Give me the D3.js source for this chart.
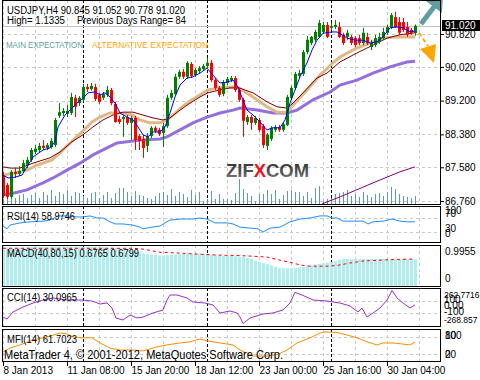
<!DOCTYPE html>
<html><head><meta charset="utf-8">
<script src="https://cdn.jsdelivr.net/npm/d3@7"></script>
<style>body{margin:0;background:#fff}svg{display:block}</style>
</head><body>
<svg id="c" width="480" height="380"></svg>
<script>
// ---------- DATA ----------
const open = [87.37,87.15,86.86,87.47,87.42,87.49,87.64,87.76,87.95,88.00,
88.10,88.05,88.07,88.12,88.83,88.90,88.88,88.90,89.27,89.14,
89.22,89.53,89.48,89.53,89.34,89.27,89.34,89.46,89.12,88.75,
88.75,88.80,88.66,88.78,88.34,88.27,88.10,88.34,88.54,88.49,
88.41,88.58,89.27,89.36,89.78,89.90,89.78,90.09,89.82,89.92,
89.97,90.04,90.12,89.70,89.51,89.36,89.63,89.70,89.75,89.46,
89.22,88.68,88.80,88.66,88.73,88.58,88.10,88.27,88.49,88.56,
88.49,88.61,89.27,89.51,89.80,89.85,90.38,90.60,90.68,90.75,
90.87,91.04,90.97,90.99,90.99,90.80,90.75,90.75,90.72,90.72,
90.60,90.75,90.50,90.55,90.63,90.72,90.85,90.99,91.23,91.11,
91.11,90.99,90.92,90.845];
const high = [87.47,87.20,87.51,87.56,87.61,87.76,87.83,88.05,88.12,88.17,
88.24,88.17,88.29,88.78,89.14,89.02,89.09,89.39,89.34,89.31,
89.61,89.61,89.63,89.61,89.39,89.41,89.56,89.51,89.17,88.83,
88.85,88.85,88.83,88.83,88.39,88.37,88.41,88.58,88.58,88.54,
88.66,89.34,89.46,89.85,89.95,89.97,90.16,90.14,89.99,90.04,
90.09,90.24,90.19,89.75,89.56,89.70,89.78,89.80,89.80,89.51,
89.27,88.85,88.85,88.83,88.78,88.63,88.41,88.58,88.61,88.61,
88.68,89.34,89.56,89.90,89.95,90.43,90.77,90.77,90.92,91.16,
91.11,91.11,91.09,91.16,91.11,90.85,90.92,90.80,90.77,90.80,
90.97,90.85,90.68,90.80,90.85,90.97,91.04,91.33,91.36,91.23,
91.21,91.11,90.97,91.052];
const low = [86.83,86.81,86.81,87.32,87.37,87.44,87.56,87.71,87.90,87.95,
88.00,88.00,88.03,88.07,88.78,88.83,88.80,88.85,88.80,89.07,
89.17,89.41,89.44,89.19,89.12,89.22,89.29,89.09,88.66,88.63,
88.32,88.61,88.24,88.00,88.00,87.81,87.95,88.29,88.41,88.34,
88.07,88.54,89.22,89.34,89.73,89.73,89.73,89.75,89.78,89.87,
89.92,89.99,89.65,89.46,89.29,89.31,89.58,89.65,89.41,89.17,
88.32,88.61,88.49,88.61,88.44,88.05,88.00,88.22,88.44,88.44,
88.44,88.58,89.24,89.46,89.75,89.80,90.33,90.55,90.63,90.72,
90.82,90.72,90.92,90.94,90.72,90.55,90.68,90.55,90.50,90.55,
90.55,90.55,90.43,90.50,90.58,90.68,90.80,90.94,90.97,90.80,
90.87,90.75,90.80,90.778];
const close = [86.88,86.86,87.47,87.42,87.49,87.68,87.76,88.00,88.03,88.10,
88.05,88.12,88.22,88.73,88.92,88.95,88.95,89.29,89.05,89.27,
89.53,89.48,89.56,89.24,89.17,89.36,89.46,89.14,88.68,88.68,
88.80,88.66,88.78,88.24,88.22,88.05,88.34,88.54,88.46,88.39,
88.58,89.27,89.39,89.78,89.90,89.78,90.12,89.80,89.95,89.99,
90.04,90.12,89.70,89.51,89.34,89.65,89.73,89.75,89.46,89.22,
88.71,88.80,88.66,88.78,88.49,88.12,88.37,88.54,88.56,88.49,
88.63,89.29,89.51,89.85,89.87,90.38,90.68,90.75,90.87,91.09,
91.04,90.75,91.01,91.04,90.75,90.60,90.85,90.60,90.55,90.60,
90.85,90.60,90.60,90.72,90.75,90.87,90.99,91.28,90.99,90.85,
90.92,90.80,90.85,91.020];
const volume = [500,800,1200,600,900,1000,600,900,1100,600,
1200,900,1400,800,1200,1000,1400,800,1200,1100,
800,600,1100,1200,600,900,1200,600,1100,1600,
1600,1200,800,1300,900,800,600,500,800,1100,
1200,900,1500,800,1200,1000,700,1400,900,1200,
300,500,1300,500,1000,500,500,400,1100,2500,
1500,1100,800,300,1000,1000,1400,1000,1400,500,
900,1300,1400,1200,1200,800,1200,600,1600,1800,
300,500,600,1000,1100,1200,1400,800,1000,700,
1200,900,700,1000,1100,800,1200,1700,1500,1000,
800,700,600,800];
// moving averages: [bar index, price]
const maFast = [[0,87.39],[1.25,87.32],[3,87.34],[4.75,87.39],[6,87.59],[7.5,87.83],[10,88.00],[11.75,88.05],[13,88.20],[13.75,88.56],[15.5,88.85],[16.75,88.97],[18.5,89.14],[20,89.26],[21.25,89.39],[23,89.41],[24.25,89.34],[25.5,89.39],[26.75,89.29],[28,89.14],[29.25,88.90],[31,88.80],[32.5,88.73],[33.75,88.56],[35,88.37],[36.25,88.32],[37.5,88.44],[39.25,88.44],[40.5,88.56],[41.75,88.90],[43,89.29],[44.25,89.58],[46,89.75],[47.5,89.78],[49.25,89.87],[51,89.99],[52.5,89.82],[54.25,89.63],[56,89.65],[57.5,89.70],[58.75,89.53],[59.25,89.40],[61,88.97],[62.5,88.85],[64.25,88.68],[66,88.49],[67.5,88.54],[69.25,88.54],[70.5,88.73],[71.75,89.14],[73,89.46],[74.25,89.78],[76,90.12],[77.25,90.43],[78.5,90.67],[80,90.84],[82.25,90.87],[83.5,90.87],[84.75,90.80],[86,90.72],[88,90.67],[90,90.67],[91.75,90.60],[93.5,90.63],[95,90.75],[96.75,90.97],[98.5,90.99],[100,90.97],[101.75,90.87],[103,90.89]];
const maMid = [[0,87.59],[1.75,87.56],[4.25,87.56],[7.5,87.68],[11.75,87.81],[14.25,87.95],[17.25,88.20],[20,88.37],[22.5,88.56],[25,88.73],[27.5,88.85],[30,88.92],[32.5,88.92],[35,88.85],[37.5,88.78],[40,88.73],[41.75,88.78],[44.25,88.97],[46.75,89.14],[49.25,89.29],[51.25,89.39],[54.25,89.46],[56.75,89.51],[59,89.51],[62.5,89.39],[66,89.17],[68.5,89.05],[71,89.02],[72.5,89.14],[75,89.39],[78.5,89.75],[81,89.87],[84.25,90.14],[88.5,90.36],[92.5,90.55],[96,90.72],[99.25,90.80],[103,90.85]];
const maTan = [[0,87.39],[3,87.44],[6,87.51],[8.5,87.63],[12.25,87.76],[14.25,87.93],[16.75,88.17],[19.75,88.44],[22.25,88.68],[24.25,88.80],[26.75,88.90],[29.25,88.90],[32.25,88.85],[34.25,88.73],[36.75,88.66],[39.25,88.66],[41,88.73],[42.5,88.85],[44.75,89.05],[47.25,89.22],[49.25,89.34],[51.25,89.46],[54.25,89.51],[57.5,89.53],[59,89.51],[62.5,89.29],[66,89.05],[68.5,88.92],[71,88.92],[73,89.14],[76,89.46],[79.25,89.82],[82.5,90.12],[84.25,90.26],[88.5,90.48],[91.75,90.60],[95,90.72],[98.5,90.75],[103,90.75]];
const maSlow = [[0,86.91],[2.5,86.95],[6,87.03],[10,87.20],[12.5,87.32],[16,87.51],[19.25,87.68],[22.5,87.88],[26,88.05],[28.5,88.17],[31,88.20],[34.25,88.24],[39.25,88.27],[41,88.32],[44.25,88.49],[47.5,88.66],[51,88.80],[54.25,88.90],[57.5,88.97],[59.25,89.02],[63.5,88.97],[67.5,88.90],[71,88.90],[73.5,88.97],[77.5,89.22],[81.75,89.41],[84.25,89.58],[88.5,89.70],[92.5,89.87],[96.75,90.02],[101,90.14],[103,90.16]];
const maLong = [[79.75,86.69],[84.25,86.86],[92.5,87.20],[99.25,87.47],[103,87.59]];
const rsi = [[0,47],[1,39],[1.75,50],[4.25,56],[6.75,59],[10,61],[11.75,64],[13.75,76],[16,76],[18.5,73],[20,73],[21.75,76],[23.5,70],[25,70],[26.75,59],[28,53],[30,53],[32.25,50],[34.25,44],[35,39],[37.25,44],[39.25,47],[40.5,56],[41.75,64],[44.25,67],[47.5,67],[49.25,70],[51,67],[53,56],[56,56],[57.5,53],[59.25,44],[63.75,39],[65,30],[66.75,41],[69.25,44],[71.75,59],[74.25,67],[76.75,70],[79.25,76],[81,76],[82.25,70],[83.5,70],[85,61],[87.5,61],[90,61],[91.25,53],[92.5,59],[95,61],[97.25,67],[99.25,61],[101.25,59],[103,58.9746]];
const macdHist = [0.97,0.97,0.97,0.97,0.97,0.97,0.98,0.98,0.98,0.98,
0.98,0.98,0.98,0.99,0.99,0.99,0.99,0.99,0.99,0.99,
0.99,0.99,0.99,0.98,0.98,0.98,0.97,0.97,0.96,0.95,
0.94,0.92,0.90,0.88,0.85,0.82,0.80,0.79,0.78,0.77,
0.77,0.78,0.79,0.80,0.81,0.82,0.82,0.82,0.81,0.81,
0.80,0.80,0.79,0.78,0.77,0.77,0.76,0.76,0.75,0.74,
0.73,0.71,0.68,0.64,0.61,0.58,0.55,0.52,0.49,0.46,
0.45,0.45,0.45,0.46,0.47,0.48,0.50,0.52,0.54,0.56,
0.58,0.59,0.60,0.63,0.66,0.68,0.68,0.68,0.68,0.68,
0.68,0.68,0.68,0.68,0.68,0.68,0.68,0.68,0.68,0.68,
0.68,0.68,0.68,0.6765];
const macdSignal = [[0,0.95],[32.5,0.95],[35,0.93],[39.25,0.85],[44.25,0.83],[49.25,0.80],[53.5,0.78],[59.25,0.765],[62.5,0.75],[66,0.73],[69.25,0.65],[71.75,0.60],[74.25,0.53],[76.75,0.50],[81.75,0.50],[84.25,0.53],[86.75,0.58],[90,0.63],[94.25,0.65],[98.5,0.67],[103,0.6799]];
const cci = [[0,-164],[1,-196],[2.5,-84],[5,-4],[7.5,60],[10,108],[12.5,140],[16,108],[20,108],[22.25,92],[24.25,44],[26,60],[27.25,-20],[28.25,-180],[30,-212],[31.75,-132],[33.5,-180],[35,-164],[37.5,-100],[40,-52],[41,108],[41.75,188],[43.5,188],[46,140],[47.5,76],[50.5,60],[52.5,28],[54.25,-100],[56.75,-68],[58.5,-100],[59.25,-164],[60,-268],[61.75,-180],[65,-116],[67.5,-100],[70,-52],[71.75,60],[73,230],[74.75,188],[77.5,108],[81,92],[82.5,76],[84.25,60],[86.75,12],[88.75,-84],[89.75,-20],[91,-164],[92.5,-100],[94.25,-20],[96,108],[97.25,262],[98.5,140],[100,60],[101.75,-20],[103,30.0965]];
const mfi = [[0,27],[1.75,41],[4.25,52],[7.5,70],[11,80],[14.25,94],[16,91],[17.5,80],[20,77],[22.25,77],[24.25,59],[26.75,41],[29.25,34],[32.5,34],[35,31],[38.5,45],[41,52],[44.25,59],[46.75,63],[49.25,73],[51.25,66],[54.25,59],[57.5,52],[59.25,34],[62.5,13],[66,13],[68.5,17],[71,34],[73.5,59],[76.75,77],[79.25,94],[80.5,98],[83.5,96],[86,87],[88.5,77],[91,63],[93.5,52],[95,59],[97.5,59],[101.75,52],[103,61.7023]];
const priceTicks = [90.820, 90.020, 89.200, 88.380, 87.580, 86.760];
const timeIdx = [0, 16, 32, 48, 64, 80, 96];
const timeLabels = ["8 Jan 2013","11 Jan 08:00","15 Jan 20:00","18 Jan 12:00","23 Jan 00:00","25 Jan 16:00","30 Jan 04:00"];
const gridIdx = d3.range(0, 105, 8);
const sepIdx = [20, 51, 82];
const lastPrice = 91.020;

// ---------- LAYOUT ----------
const F = "Liberation Sans, Arial, sans-serif";
const L = 2, R = 441;
const P = {main:[0,205], rsi:[206,243], macd:[245,287], cci:[288,327], mfi:[329,362]};
const svg = d3.select("#c");
svg.append("rect").attr("width",480).attr("height",380).attr("fill","#fff");

const x = d3.scaleLinear().domain([0, 103]).range([3, 415]);
const yP = d3.scaleLinear().domain([86.76, 90.82]).range([201, 34]);
const yV = d3.scaleLinear().domain([0, 2500]).range([204, 179]);
const yR = d3.scaleLinear().domain([0, 100]).range([242.5, 207.5]);
const yM = d3.scaleLinear().domain([0, 0.9955]).range([286, 246.5]);
const yC = d3.scaleLinear().domain([-100, 100]).range([313, 300.5]);
const yF = d3.scaleLinear().domain([20, 80]).range([354, 337]);

const defs = svg.append("defs");
Object.entries(P).forEach(([k,[t,b]]) => {
  defs.append("clipPath").attr("id","clip-"+k).append("rect")
    .attr("x",L).attr("y",t).attr("width",R-L).attr("height",b-t);
});
const lg = defs.append("linearGradient").attr("id","logoG").attr("x1",0).attr("y1",0).attr("x2",0).attr("y2",1);
lg.append("stop").attr("offset","0%").attr("stop-color","#2a2a2a");
lg.append("stop").attr("offset","60%").attr("stop-color","#555");
lg.append("stop").attr("offset","100%").attr("stop-color","#8a8a8a");

function panelGrid(key, hLevels, yScale) {
  const [t,b] = P[key];
  const g = svg.append("g").attr("clip-path",`url(#clip-${key})`);
  g.selectAll(".vg").data(gridIdx).join("line")
    .attr("x1",d=>Math.round(x(d))+0.5).attr("x2",d=>Math.round(x(d))+0.5)
    .attr("y1",t).attr("y2",b).attr("stroke","#c8c8c8").attr("stroke-dasharray","3,3");
  if (hLevels) g.selectAll(".hg").data(hLevels).join("line")
    .attr("x1",L).attr("x2",R).attr("y1",d=>Math.round(yScale(d))+0.5).attr("y2",d=>Math.round(yScale(d))+0.5)
    .attr("stroke","#c8c8c8").attr("stroke-dasharray","3,3");
  g.selectAll(".sep").data(sepIdx).join("line")
    .attr("x1",d=>Math.round(x(d))+0.5).attr("x2",d=>Math.round(x(d))+0.5)
    .attr("y1",t).attr("y2",b).attr("stroke","#000").attr("stroke-dasharray","3,2");
  return g;
}
function border(key){
  const [t,b] = P[key];
  svg.append("rect").attr("x",L+0.5).attr("y",t+0.5).attr("width",R-L-1).attr("height",b-t-1)
    .attr("fill","none").attr("stroke","#000");
}
function label(xp, yp, s, size, fill, len, anchor) {
  const t = svg.append("text").attr("x",xp).attr("y",yp).text(s)
    .attr("font-family",F).attr("font-size",size).attr("fill",fill||"#000");
  if (len) t.attr("textLength",len).attr("lengthAdjust","spacingAndGlyphs");
  if (anchor) t.attr("text-anchor",anchor);
  return t;
}
const lineGen = (ys) => d3.line().x(d=>x(d[0])).y(d=>ys(d[1]));

// ---------- MAIN PANEL ----------
const gm = panelGrid("main", priceTicks, yP);
// logo
const logo = gm.append("text").attr("x",226).attr("y",177).attr("font-family",F)
  .attr("font-weight","bold").attr("font-size",19).attr("textLength",83).attr("lengthAdjust","spacingAndGlyphs");
logo.append("tspan").text("ZIF").attr("fill","url(#logoG)");
logo.append("tspan").text("X").attr("fill","#e8141b");
logo.append("tspan").text("COM").attr("fill","url(#logoG)");
// current price line
gm.append("line").attr("x1",L).attr("x2",R).attr("y1",Math.round(yP(lastPrice))+0.5).attr("y2",Math.round(yP(lastPrice))+0.5)
  .attr("stroke","#c0c0c0");
// volumes
gm.selectAll(".vol").data(volume).join("line")
  .attr("x1",(d,i)=>x(i)+0.5).attr("x2",(d,i)=>x(i)+0.5)
  .attr("y1",yV(0)).attr("y2",d=>yV(d)).attr("stroke","#5f9ea0");
// MAs
gm.append("path").datum(maSlow).attr("d",lineGen(yP)).attr("fill","none").attr("stroke","#9370db").attr("stroke-width",3);
gm.append("path").datum(maTan).attr("d",lineGen(yP)).attr("fill","none").attr("stroke","#deb887").attr("stroke-width",3);
gm.append("path").datum(maMid).attr("d",lineGen(yP)).attr("fill","none").attr("stroke","#800000").attr("stroke-width",1);
gm.append("path").datum(maLong).attr("d",lineGen(yP)).attr("fill","none").attr("stroke","#800080").attr("stroke-width",1);
// candles
const bars = d3.range(close.length);
const cg = gm.append("g");
cg.selectAll(".wick").data(bars).join("line")
  .attr("x1",i=>x(i)+0.5).attr("x2",i=>x(i)+0.5)
  .attr("y1",i=>yP(high[i])).attr("y2",i=>yP(low[i]))
  .attr("stroke",i=>close[i]>=open[i]?"#008000":"#ff0000");
cg.selectAll(".body").data(bars).join("rect")
  .attr("x",i=>x(i)-1).attr("width",3)
  .attr("y",i=>Math.min(yP(open[i]),yP(close[i])))
  .attr("height",i=>Math.max(1,Math.abs(yP(open[i])-yP(close[i]))))
  .attr("fill",i=>close[i]>=open[i]?"#008000":"#ff0000");
gm.append("path").datum(maFast).attr("d",lineGen(yP)).attr("fill","none").attr("stroke","#0000ff").attr("stroke-width",1);
// expectation arrows
const ax0=[421,24], ax1=[443,-5];
(function arrow(a,b,hl,hw,sw,col){
  const dx=b[0]-a[0], dy=b[1]-a[1], len=Math.hypot(dx,dy), ux=dx/len, uy=dy/len, px=-uy, py=ux;
  const bx=b[0]-ux*hl, by=b[1]-uy*hl;
  const pts=[[a[0]+px*sw/2,a[1]+py*sw/2],[bx+px*sw/2,by+py*sw/2],[bx+px*hw/2,by+py*hw/2],b,[bx-px*hw/2,by-py*hw/2],[bx-px*sw/2,by-py*sw/2],[a[0]-px*sw/2,a[1]-py*sw/2]];
  svg.append("polygon").attr("points",pts.map(p=>p.join(",")).join(" ")).attr("fill",col);
})(ax0,ax1,15,20,5,"#5f9ea0");
svg.append("line").attr("x1",419).attr("y1",33).attr("x2",428).attr("y2",46)
  .attr("stroke","#ffa500").attr("stroke-width",2).attr("stroke-dasharray","4,3");
svg.append("polygon").attr("points","420,49 436,44 434,63").attr("fill","#ffa500");
border("main");
// price axis
const gAx = svg.append("g").attr("transform",`translate(${R},0)`)
  .call(d3.axisRight(yP).tickValues(priceTicks).tickFormat(d3.format(".3f")).tickSize(3).tickPadding(1));
gAx.select(".domain").remove();
gAx.selectAll("text").attr("font-family",F).attr("font-size",10).attr("fill","#000");
gAx.selectAll("line").attr("stroke","#000");
svg.append("rect").attr("x",442).attr("y",Math.round(yP(lastPrice))-6).attr("width",38).attr("height",11).attr("fill","#000");
label(445, yP(lastPrice)+3.5, d3.format(".3f")(lastPrice), 10, "#fff");
// titles
label(7, 14, "USDJPY,H4  90.845 91.052 90.778 91.020", 10, "#000", 178);
label(7, 24, "High= 1.1335", 10, "#000", 58);
label(77, 24, "Previous Days Range= 84", 10, "#000", 109);
label(6, 48, "MAIN EXPECTATION", 8.5, "#5f9ea0", 77);
label(92, 48, "ALTERNATIVE EXPECTATION", 8.5, "#ffa500", 116);

// ---------- RSI ----------
const gr = panelGrid("rsi", [70,30], yR);
gr.append("path").datum(rsi).attr("d",lineGen(yR)).attr("fill","none").attr("stroke","#1e90ff");
border("rsi");
label(7, 220, "RSI(14) 58.9746", 10, "#000", 68);
[["100",214],["70",217],["30",232],["0",237]].forEach(([s,yy])=>label(445,yy,s,10));

// ---------- MACD ----------
const gc = panelGrid("macd", null, null);
gc.selectAll(".h").data(macdHist).join("rect")
  .attr("x",(d,i)=>x(i)-1).attr("width",3).attr("y",d=>yM(d)).attr("height",d=>yM(0)-yM(d)).attr("fill","#afeeee");
gc.append("path").datum(macdSignal).attr("d",lineGen(yM)).attr("fill","none").attr("stroke","#ff0000").attr("stroke-dasharray","3,3");
border("macd");
label(7, 257, "MACD(40,80,15) 0.6765 0.6799", 10, "#000", 132);
label(445, 255, "0.9955", 10); label(445, 282, "0", 10);

// ---------- CCI ----------
const gcc = panelGrid("cci", [100,-100], yC);
gcc.append("path").datum(cci).attr("d",lineGen(yC)).attr("fill","none").attr("stroke","#9932cc");
border("cci");
label(7, 301, "CCI(14) 30.0965", 10, "#000", 70);
[["262.7716",298,8.5],["100",303,10],["0.00",309,10],["-100",315,10],["-268.857",323,8.5]].forEach(([s,yy,fs])=>label(444,yy,s,fs));

// ---------- MFI ----------
const gf = panelGrid("mfi", [80,20], yF);
gf.append("path").datum(mfi).attr("d",lineGen(yF)).attr("fill","none").attr("stroke","#ff8c00");
border("mfi");
label(7, 343, "MFI(14) 61.7023", 10, "#000", 70);
[["100",339],["80",339],["20",358],["0",358]].forEach(([s,yy])=>label(445,yy,s,10));
label(4, 359, "MetaTrader 4, \u00a9 2001-2012, MetaQuotes Software Corp.", 13, "#000", 279);

// ---------- TIME AXIS ----------
const gt = svg.append("g").attr("transform",`translate(0,${P.mfi[1]})`)
  .call(d3.axisBottom(x).tickValues(timeIdx).tickFormat((d,i)=>timeLabels[i]).tickSize(4).tickPadding(1));
gt.select(".domain").remove();
gt.selectAll("text").attr("font-family",F).attr("font-size",10).attr("fill","#000").attr("text-anchor","start").attr("x",0);
gt.selectAll("line").attr("stroke","#000");
</script>
</body></html>
